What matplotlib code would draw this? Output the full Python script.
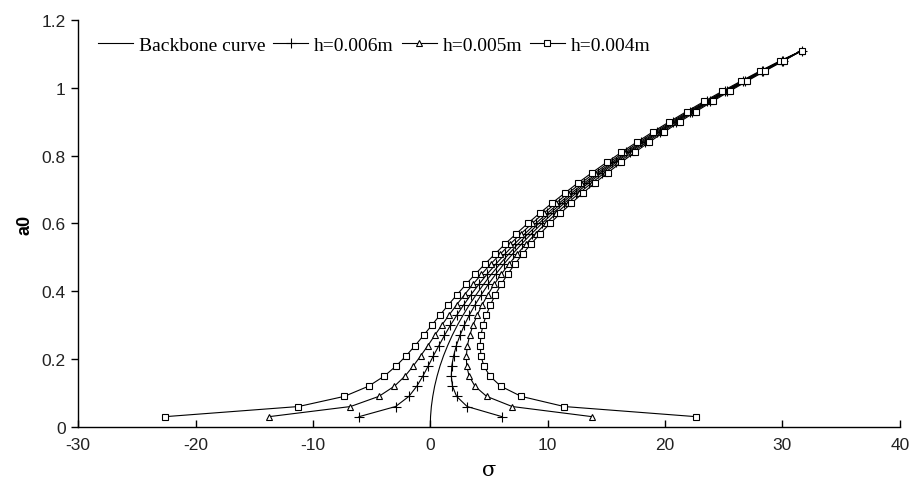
import matplotlib
matplotlib.use("Agg")
import matplotlib.pyplot as plt
from matplotlib.ticker import FuncFormatter

plt.rcParams['axes.unicode_minus'] = False

# amplitude a0, one point every 0.03
amp = [0.03, 0.06, 0.09, 0.12, 0.15, 0.18, 0.21, 0.24, 0.27, 0.30, 0.33, 0.36,
       0.39, 0.42, 0.45, 0.48, 0.51, 0.54, 0.57, 0.60, 0.63, 0.66, 0.69, 0.72,
       0.75, 0.78, 0.81, 0.84, 0.87, 0.90, 0.93, 0.96, 0.99, 1.02, 1.05, 1.08, 1.11]

# backbone curve (starts at the origin)
bb_amp = [0.0] + amp
bb_sigma = [0.0, 0.02, 0.09, 0.21, 0.37, 0.58, 0.83, 1.13, 1.48, 1.87, 2.31, 2.80, 3.33,
            3.91, 4.53, 5.20, 5.92, 6.69, 7.49, 8.35, 9.25, 10.20, 11.20, 12.24, 13.32,
            14.46, 15.64, 16.86, 18.13, 19.45, 20.82, 22.23, 23.69, 25.19, 26.74, 28.33,
            29.98, 31.67]

top_sigma = 31.67

# h=0.006m
left_006 = [-6.08, -2.96, -1.82, -1.15, -0.63, -0.17, 0.27, 0.74, 1.21, 1.72, 2.27, 2.85,
            3.47, 4.13, 4.83, 5.58, 6.37, 7.19, 8.07, 8.99, 9.96, 10.98, 12.03, 13.13,
            14.28, 15.47, 16.71, 17.99, 19.32, 20.70, 22.12, 23.59, 25.11, 26.67, 28.27, 29.94]
right_006 = [6.12, 3.14, 2.24, 1.89, 1.79, 1.83, 1.99, 2.22, 2.53, 2.90, 3.33, 3.81,
             4.35, 4.93, 5.57, 6.26, 7.01, 7.79, 8.63, 9.51, 10.44, 11.42, 12.45, 13.51,
             14.64, 15.81, 17.01, 18.27, 19.58, 20.94, 22.34, 23.79, 25.27, 26.81, 28.39, 30.02]

# h=0.005m
left_005 = [-13.77, -6.80, -4.38, -3.06, -2.15, -1.44, -0.81, -0.20, 0.38, 0.98, 1.60, 2.24,
            2.92, 3.62, 4.36, 5.14, 5.97, 6.82, 7.73, 8.67, 9.66, 10.70, 11.77, 12.88,
            14.05, 15.26, 16.51, 17.81, 19.15, 20.55, 21.99, 23.47, 25.00, 26.58, 28.20, 29.89]
right_005 = [13.81, 6.98, 4.80, 3.80, 3.31, 3.10, 3.07, 3.16, 3.36, 3.64, 4.00, 4.42,
             4.90, 5.44, 6.04, 6.70, 7.41, 8.16, 8.97, 9.83, 10.74, 11.70, 12.71, 13.76,
             14.87, 16.02, 17.21, 18.45, 19.75, 21.09, 22.47, 23.91, 25.38, 26.90, 28.46, 30.07]

# h=0.004m
left_004 = [-22.64, -11.23, -7.32, -5.26, -3.91, -2.90, -2.05, -1.29, -0.57, 0.13, 0.83, 1.54,
            2.28, 3.03, 3.82, 4.64, 5.51, 6.39, 7.33, 8.30, 9.31, 10.37, 11.47, 12.60,
            13.79, 15.02, 16.29, 17.60, 18.96, 20.38, 21.83, 23.33, 24.88, 26.48, 28.12, 29.83]
right_004 = [22.68, 11.41, 7.74, 6.00, 5.07, 4.56, 4.31, 4.25, 4.31, 4.49, 4.77, 5.12,
             5.54, 6.03, 6.58, 7.20, 7.87, 8.59, 9.37, 10.20, 11.09, 12.03, 13.01, 14.04,
             15.13, 16.26, 17.43, 18.66, 19.94, 21.26, 22.63, 24.05, 25.50, 27.00, 28.54, 30.13]


def whole_curve(left, right):
    # left branch up to the top point, then right branch back down
    s = left + [top_sigma] + right[::-1]
    a = amp + amp[-2::-1]
    return s, a


fig = plt.figure(figsize=(9.2, 4.89), dpi=100)
ax = fig.add_axes([0.085, 0.125, 0.893, 0.832])

lw = 0.8
ax.plot(bb_sigma, bb_amp, '-', color='black', lw=lw, label='Backbone curve')
s, a = whole_curve(left_006, right_006)
ax.plot(s, a, '-', color='black', lw=lw, marker='+', ms=6.5, mew=0.8, label='h=0.006m')
s, a = whole_curve(left_005, right_005)
ax.plot(s, a, '-', color='black', lw=lw, marker='^', ms=4.3, mew=0.8, mfc='white', label='h=0.005m')
s, a = whole_curve(left_004, right_004)
ax.plot(s, a, '-', color='black', lw=lw, marker='s', ms=4.2, mew=0.8, mfc='white', label='h=0.004m')

ax.set_xlim(-30, 40)
ax.set_ylim(0, 1.2)
ax.set_xticks([-30, -20, -10, 0, 10, 20, 30, 40])
ax.set_yticks([0, 0.2, 0.4, 0.6, 0.8, 1.0, 1.2])
ax.yaxis.set_major_formatter(FuncFormatter(lambda v, p: '%g' % v))

ax.spines['top'].set_visible(False)
ax.spines['right'].set_visible(False)
ax.spines['left'].set_linewidth(1.0)
ax.spines['bottom'].set_linewidth(1.0)
ax.tick_params(axis='x', direction='in', length=5, width=1, labelsize=12.5, pad=7)
ax.tick_params(axis='y', direction='out', length=5, width=1, labelsize=12.5, pad=4)
for lab in ax.get_xticklabels() + ax.get_yticklabels():
    lab.set_fontfamily('Liberation Sans')
    lab.set_color('#222222')

ax.set_xlabel('σ', fontsize=15, family='DejaVu Serif', labelpad=6)
ax.set_ylabel('a0', fontsize=13, family='Liberation Sans', fontweight='bold', labelpad=6)

ax.legend(loc='upper left', bbox_to_anchor=(0.01, 0.988), ncol=4, frameon=False,
          prop={'family': 'Liberation Serif', 'size': 14}, handlelength=1.8,
          handletextpad=0.3, columnspacing=0.4, borderaxespad=0.2, numpoints=1)

fig.savefig('out.png', dpi=100)
